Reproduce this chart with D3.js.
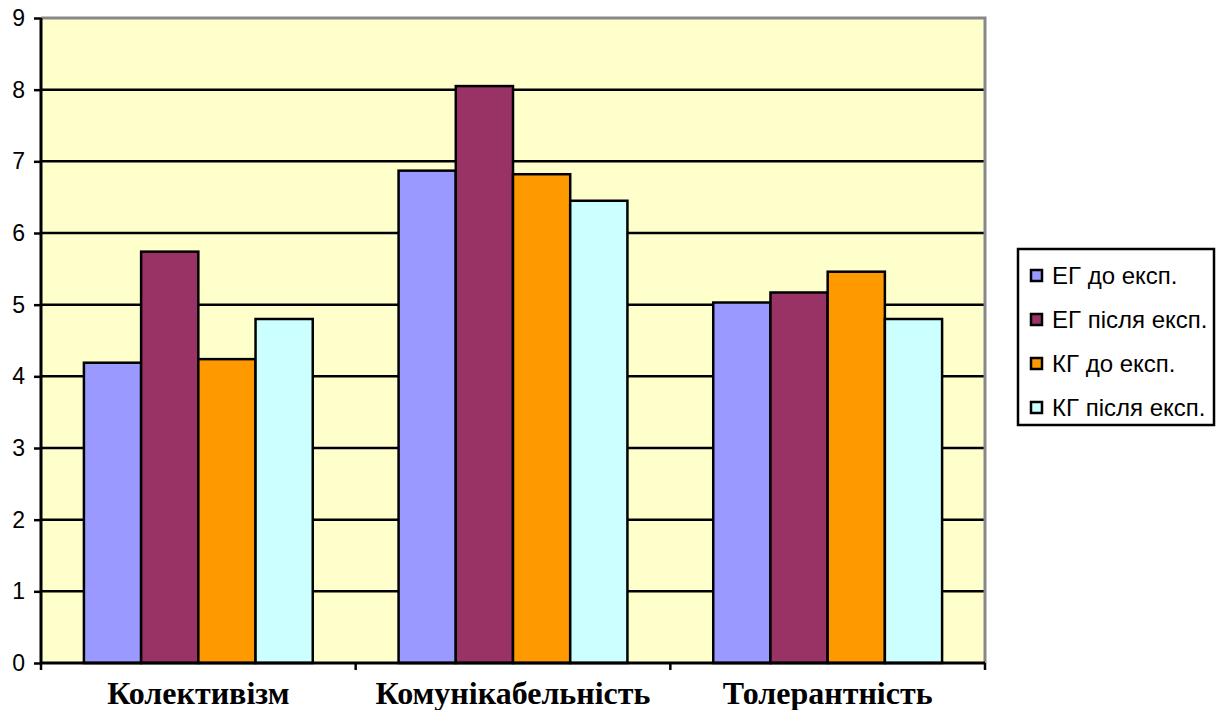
<!DOCTYPE html>
<html>
<head>
<meta charset="utf-8">
<script src="https://cdn.jsdelivr.net/npm/d3@7/dist/d3.min.js"></script>
<style>
  html, body { margin: 0; padding: 0; background: #fff; }
  svg { display: block; }
  .cat-label { font-family: "Liberation Serif", "Times New Roman", serif; font-weight: bold; }
  .sans { font-family: "Liberation Sans", Arial, sans-serif; }
</style>
</head>
<body>
<svg id="chart" width="1221" height="710"></svg>
<script>
// Categories and series
const categories = ["Колективізм", "Комунікабельність", "Толерантність"];
const seriesNames = ["ЕГ до експ.", "ЕГ після експ.", "КГ до експ.", "КГ після експ."];
const egBefore = [4.19, 6.87, 5.03];
const egAfter  = [5.74, 8.05, 5.17];
const kgBefore = [4.24, 6.82, 5.46];
const kgAfter  = [4.80, 6.45, 4.80];
const yTicks = [0, 1, 2, 3, 4, 5, 6, 7, 8, 9];
const colors = ["#9999FF", "#993366", "#FF9900", "#CCFFFF"];

const seriesValues = [egBefore, egAfter, kgBefore, kgAfter];

const svg = d3.select("#chart");
const plot = { left: 41, right: 985, top: 18, bottom: 663 };

const x = d3.scaleBand()
  .domain(categories)
  .range([plot.left, plot.right])
  .paddingInner(0)
  .paddingOuter(0);

// 150% gap between clusters, split evenly on both sides of each cluster
const clusterPad = (x.bandwidth() * 1.5 / 5.5) / 2;
const x1 = d3.scaleBand()
  .domain(d3.range(seriesNames.length))
  .range([clusterPad, x.bandwidth() - clusterPad])
  .padding(0);

const y = d3.scaleLinear().domain([0, 9]).range([plot.bottom, plot.top]);

// plot area background
svg.append("rect")
  .attr("x", plot.left).attr("y", plot.top)
  .attr("width", plot.right - plot.left).attr("height", plot.bottom - plot.top)
  .attr("fill", "#FFFFCC");

// gridlines
svg.append("g")
  .selectAll("line")
  .data(yTicks.filter(d => d > 0 && d < 9))
  .join("line")
  .attr("x1", plot.left).attr("x2", plot.right)
  .attr("y1", d => y(d)).attr("y2", d => y(d))
  .attr("stroke", "#000").attr("stroke-width", 2.5);

// plot area border (top and right, grey)
svg.append("path")
  .attr("d", `M${plot.left},${plot.top}H${plot.right}V${plot.bottom}`)
  .attr("fill", "none").attr("stroke", "#888").attr("stroke-width", 3);

// bars
const groups = svg.append("g")
  .selectAll("g")
  .data(categories)
  .join("g")
  .attr("transform", d => `translate(${x(d)},0)`);

groups.selectAll("rect")
  .data((c, ci) => seriesValues.map((vals, si) => ({ si, v: vals[ci] })))
  .join("rect")
  .attr("x", d => x1(d.si))
  .attr("width", x1.bandwidth())
  .attr("y", d => y(d.v))
  .attr("height", d => y(0) - y(d.v))
  .attr("fill", d => colors[d.si])
  .attr("stroke", "#000")
  .attr("stroke-width", 2.5);

// y axis
const yAxis = svg.append("g")
  .attr("transform", `translate(${plot.left},0)`)
  .call(d3.axisLeft(y).tickValues(yTicks).tickSize(7).tickPadding(9).tickFormat(d3.format("d")));
yAxis.attr("font-family", null).attr("font-size", null);
yAxis.select(".domain").attr("stroke", "#000").attr("stroke-width", 3)
  .attr("d", `M0,${plot.top}V${plot.bottom}`);
yAxis.selectAll(".tick line").attr("stroke", "#000").attr("stroke-width", 2.5);
yAxis.selectAll(".tick text")
  .attr("class", "sans")
  .style("font-size", "23px").attr("fill", "#000");

// x axis
const xAxis = svg.append("g")
  .attr("transform", `translate(0,${plot.bottom})`);
xAxis.append("line")
  .attr("x1", plot.left).attr("x2", plot.right)
  .attr("stroke", "#000").attr("stroke-width", 3);
const boundaries = categories.map(c => x(c)).concat([plot.right]);
xAxis.selectAll("line.tk")
  .data(boundaries)
  .join("line")
  .attr("class", "tk")
  .attr("x1", d => d).attr("x2", d => d)
  .attr("y1", 0).attr("y2", 7)
  .attr("stroke", "#000").attr("stroke-width", 2.5);
xAxis.selectAll("text")
  .data(categories)
  .join("text")
  .attr("class", "cat-label")
  .attr("x", d => x(d) + x.bandwidth() / 2)
  .attr("y", 41)
  .attr("text-anchor", "middle")
  .style("font-size", "32px")
  .attr("fill", "#000")
  .text(d => d);

// legend
const legend = svg.append("g").attr("transform", "translate(1018,249)");
legend.append("rect")
  .attr("width", 196).attr("height", 176)
  .attr("fill", "#fff").attr("stroke", "#000").attr("stroke-width", 2.5);
const rowY = [27, 71, 115, 159];
const items = legend.selectAll("g.item")
  .data(seriesNames)
  .join("g")
  .attr("class", "item")
  .attr("transform", (d, i) => `translate(0,${rowY[i]})`);
items.append("rect")
  .attr("x", 13).attr("y", -6).attr("width", 11).attr("height", 11)
  .attr("fill", (d, i) => colors[i])
  .attr("stroke", "#000").attr("stroke-width", 2.5);
items.append("text")
  .attr("class", "sans")
  .attr("x", 34).attr("y", 8)
  .style("font-size", "24px")
  .attr("fill", "#000")
  .text(d => d);
</script>
</body>
</html>
